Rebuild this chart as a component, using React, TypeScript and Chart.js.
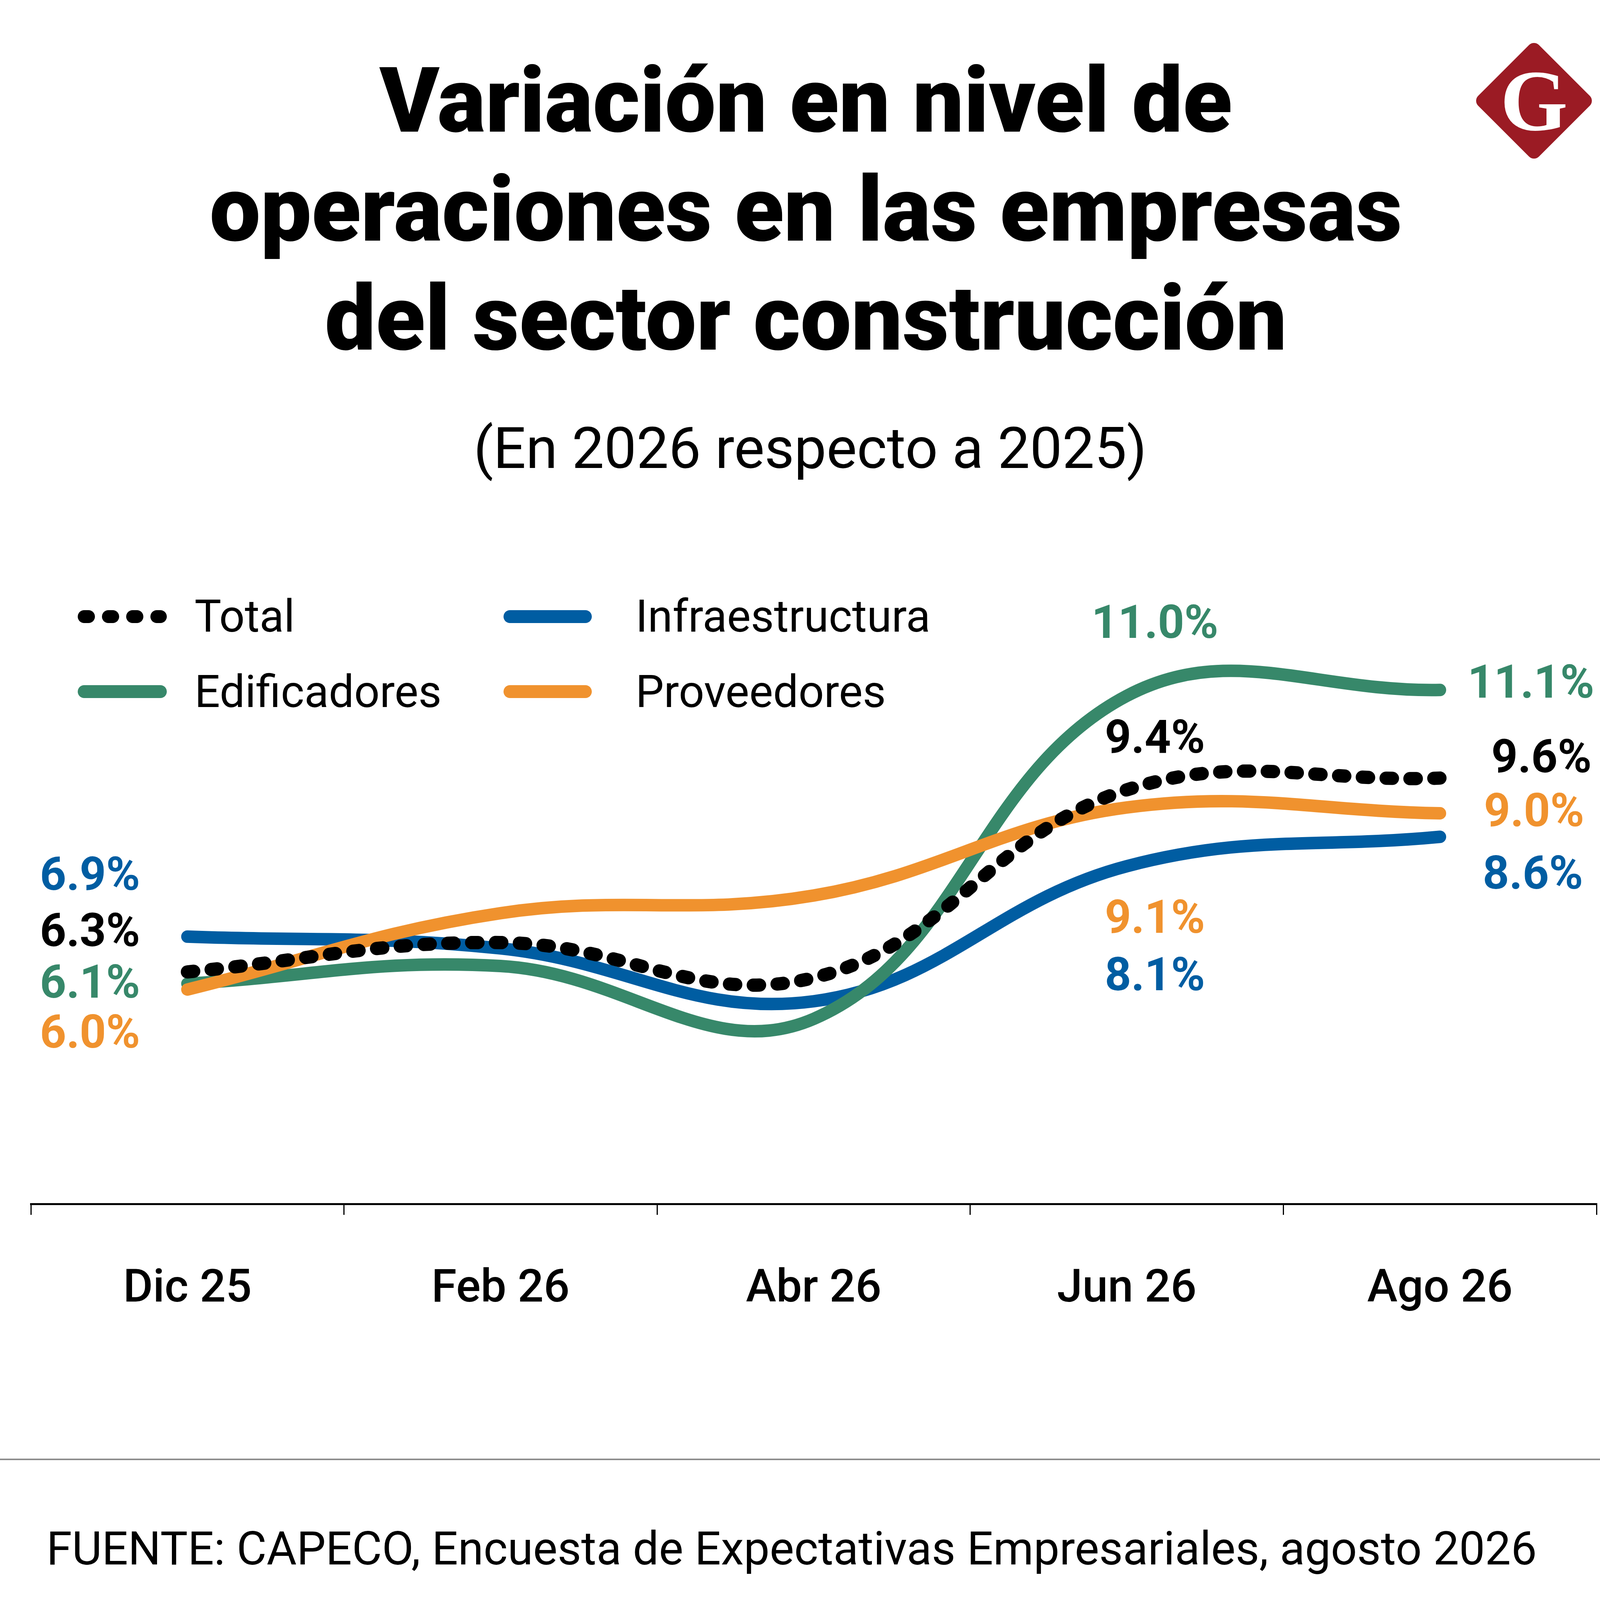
import React, { useEffect, useRef } from "react";
import { Chart, registerables } from "chart.js";

Chart.register(...registerables);

// ---------- data ----------
const categories = ["Dic 25", "Feb 26", "Abr 26", "Jun 26", "Ago 26"];
const totalValues = [6.3, 6.8, 6.2, 9.4, 9.6];
const edificadoresValues = [6.1, 6.4, 5.5, 11.0, 11.1];
const infraestructuraValues = [6.9, 6.7, 5.8, 8.1, 8.6];
const proveedoresValues = [6.0, 7.3, 7.6, 9.1, 9.0];
const labelledIndices = [0, 3, 4];
const seriesNames = ["Total", "Edificadores", "Infraestructura", "Proveedores"];

// ---------- styles ----------
const W = 4150;
const H = 4302;
const FONT = "Roboto, 'Open Sans', 'Noto Sans', sans-serif";
const C_TOTAL = "#000000";
const C_EDIF = "#37886A";
const C_INFRA = "#005DA2";
const C_PROV = "#F0922E";

// label placement relative to its point: [dx, dy, align]
const offTotal: [number, number, CanvasTextAlign][] = [[-121, -96, "right"], [72, -124, "center"], [260, -44, "center"]];
const offEdif: [number, number, CanvasTextAlign][] = [[-121, 6, "right"], [72, -178, "center"], [233, -10, "center"]];
const offInfra: [number, number, CanvasTextAlign][] = [[-121, -149, "right"], [72, 288, "center"], [238, 103, "center"]];
const offProv: [number, number, CanvasTextAlign][] = [[-121, 119, "right"], [72, 291, "center"], [241, 3, "center"]];

const pointLabels = {
  id: "pointLabels",
  afterDatasetsDraw(chart: any) {
    const ctx = chart.ctx;
    chart.data.datasets.forEach((ds: any, di: number) => {
      const meta = chart.getDatasetMeta(di);
      const offs = ds.labelOffsets as [number, number, CanvasTextAlign][];
      labelledIndices.forEach((idx, k) => {
        const pt = meta.data[idx];
        if (!pt) return;
        const [dx, dy, align] = offs[k];
        ctx.save();
        ctx.font = `700 118px ${FONT}`;
        ctx.fillStyle = ds.labelColor;
        ctx.textAlign = align;
        ctx.textBaseline = "middle";
        ctx.fillText(`${Number(ds.data[idx]).toFixed(1)}%`, pt.x + dx, pt.y + dy);
        ctx.restore();
      });
    });
  },
};

function ChartCanvas() {
  const ref = useRef<HTMLCanvasElement | null>(null);
  useEffect(() => {
    if (!ref.current) return;
    const common = {
      pointRadius: 0,
      pointHoverRadius: 0,
      tension: 0.4,
      fill: false,
      borderCapStyle: "round" as const,
      borderJoinStyle: "round" as const,
    };
    const chart = new Chart(ref.current, {
      type: "line",
      data: {
        labels: categories,
        datasets: [
          {
            ...common,
            label: seriesNames[0],
            data: totalValues,
            borderColor: C_TOTAL,
            borderWidth: 34,
            borderDash: [16, 45],
            order: 0,
            labelOffsets: offTotal,
            labelColor: C_TOTAL,
          } as any,
          {
            ...common,
            label: seriesNames[1],
            data: edificadoresValues,
            borderColor: C_EDIF,
            borderWidth: 32,
            order: 2,
            labelOffsets: offEdif,
            labelColor: C_EDIF,
          } as any,
          {
            ...common,
            label: seriesNames[2],
            data: infraestructuraValues,
            borderColor: C_INFRA,
            borderWidth: 32,
            order: 3,
            labelOffsets: offInfra,
            labelColor: C_INFRA,
          } as any,
          {
            ...common,
            label: seriesNames[3],
            data: proveedoresValues,
            borderColor: C_PROV,
            borderWidth: 32,
            order: 1,
            labelOffsets: offProv,
            labelColor: C_PROV,
          } as any,
        ],
      },
      options: {
        animation: false,
        responsive: true,
        maintainAspectRatio: false,
        devicePixelRatio: 1,
        events: [],
        layout: { padding: { left: 79, right: 63, top: 1631, bottom: 820 } },
        plugins: {
          legend: { display: false },
          tooltip: { enabled: false },
          title: { display: false },
        },
        scales: {
          x: {
            type: "category",
            offset: true,
            grid: {
              display: true,
              offset: true,
              drawOnChartArea: false,
              drawTicks: true,
              tickLength: 28,
              tickWidth: 3,
              tickColor: "#000",
              color: "#000",
              lineWidth: 3,
            },
            border: { display: true, color: "#000", width: 5 },
            ticks: {
              color: "#000",
              font: { family: FONT, size: 117, weight: "500" },
              padding: 123,
              maxRotation: 0,
              autoSkip: false,
            },
            afterFit(scale: any) {
              scale.height = 400;
            },
          },
          y: {
            display: false,
            min: 2.35,
            max: 12,
          },
        },
      },
      plugins: [pointLabels],
    } as any);
    return () => chart.destroy();
  }, []);
  return <canvas ref={ref} />;
}

function Pill({ left, top, width, color }: { left: number; top: number; width: number; color: string }) {
  return (
    <div
      style={{
        position: "absolute",
        left,
        top,
        width,
        height: 33,
        borderRadius: 16.5,
        background: color,
      }}
    />
  );
}

function LegendText({ left, top, text }: { left: number; top: number; text: string }) {
  return (
    <div
      style={{
        position: "absolute",
        left,
        top,
        fontSize: 115,
        lineHeight: "115px",
        fontWeight: 400,
        color: "#000",
        whiteSpace: "nowrap",
      }}
    >
      {text}
    </div>
  );
}

export default function App() {
  return (
    <div
      style={{
        position: "absolute",
        left: 0,
        top: 0,
        width: W,
        height: H,
        background: "#fff",
        overflow: "hidden",
        fontFamily: FONT,
      }}
    >
      {/* Title */}
      <div
        style={{
          position: "absolute",
          left: 0,
          top: 119,
          width: 4126,
          textAlign: "center",
          fontSize: 232,
          lineHeight: "279px",
          fontWeight: 900,
          color: "#000",
        }}
      >
        <div>Variación en nivel de</div>
        <div>operaciones en las empresas</div>
        <div>del sector construcción</div>
      </div>

      {/* Subtitle */}
      <div
        style={{
          position: "absolute",
          left: 0,
          top: 1075,
          width: 4148,
          textAlign: "center",
          fontSize: 147,
          lineHeight: "147px",
          fontWeight: 400,
          color: "#000",
        }}
      >
        (En 2026 respecto a 2025)
      </div>

      {/* Logo */}
      <div
        style={{
          position: "absolute",
          left: 3927 - 110,
          top: 258 - 110,
          width: 220,
          height: 220,
          background: "#9B1B24",
          borderRadius: 18,
          transform: "rotate(45deg)",
        }}
      />
      <div
        style={{
          position: "absolute",
          left: 3771,
          top: 102,
          width: 312,
          height: 312,
          display: "flex",
          alignItems: "center",
          justifyContent: "center",
          fontFamily: "'Liberation Serif', 'DejaVu Serif', serif",
          fontWeight: 700,
          fontSize: 222,
          lineHeight: "normal",
          color: "#fff",
        }}
      >
        G
      </div>

      {/* Legend */}
      <Pill left={199} top={1562} width={44} color={C_TOTAL} />
      <Pill left={261} top={1562} width={44} color={C_TOTAL} />
      <Pill left={323} top={1562} width={44} color={C_TOTAL} />
      <Pill left={385} top={1562} width={42} color={C_TOTAL} />
      <LegendText left={498} top={1520} text={seriesNames[0]} />
      <Pill left={1289} top={1562} width={226} color={C_INFRA} />
      <LegendText left={1627} top={1520} text={seriesNames[2]} />
      <Pill left={199} top={1754} width={228} color={C_EDIF} />
      <LegendText left={498} top={1713} text={seriesNames[1]} />
      <Pill left={1289} top={1754} width={226} color={C_PROV} />
      <LegendText left={1627} top={1713} text={seriesNames[3]} />

      {/* Chart */}
      <div style={{ position: "absolute", left: 0, top: 0, width: W, height: H }}>
        <ChartCanvas />
      </div>

      {/* Footer */}
      <div
        style={{
          position: "absolute",
          left: 0,
          top: 3734,
          width: W,
          height: 4,
          background: "#8c8c8c",
        }}
      />
      <div
        style={{
          position: "absolute",
          left: 119,
          top: 3906,
          fontSize: 118,
          lineHeight: "118px",
          fontWeight: 400,
          color: "#000",
          whiteSpace: "nowrap",
        }}
      >
        FUENTE: CAPECO, Encuesta de Expectativas Empresariales, agosto 2026
      </div>
    </div>
  );
}
